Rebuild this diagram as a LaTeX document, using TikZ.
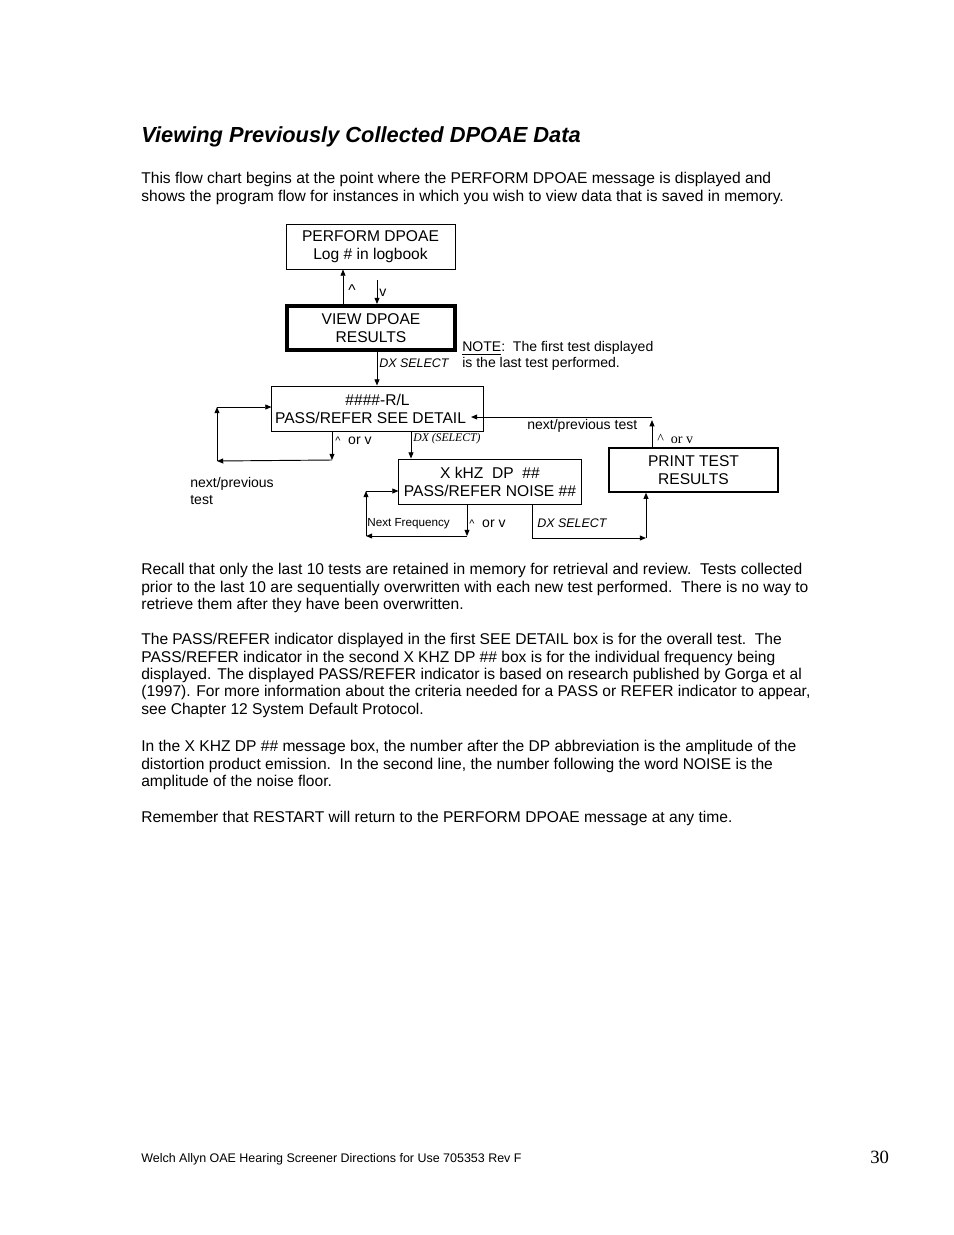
\documentclass[tikz,border=0pt]{standalone}
\usepackage{fontspec}
\setmainfont{Liberation Sans}
\newfontfamily\timesfont{Liberation Serif}
\usetikzlibrary{arrows.meta}

\begin{document}
\begin{tikzpicture}[
  x=0.6415pt, y=-0.6415pt,
  font=\fontsize{10}{11.5}\selectfont,
  box/.style={draw, line width=0.6pt, minimum height=28.9pt,
    align=center, inner sep=1pt},
  arrow/.style={-{Triangle[length=4pt,width=3.2pt]}, line width=0.6pt},
  lbl/.style={anchor=west, inner sep=0pt, font=\fontsize{9}{10.3}\selectfont},
  para/.style={anchor=north west, inner sep=0pt, align=left,
    font=\fontsize{10}{11.2}\selectfont},
]
  \useasboundingbox (0,0) rectangle (954,1235);

  % page text
  \node[anchor=base west, inner sep=0pt, font=\fontsize{14}{16}\selectfont\bfseries\itshape]
    (title) at (141,142) {Viewing Previously Collected DPOAE Data};
  \node[para] (intro) at (141,172) {This flow chart begins at the point where the PERFORM DPOAE message is displayed and\\
    shows the program flow for instances in which you wish to view data that is saved in memory.};

  % boxes
  \node[box, minimum width=108.4pt] (perform) at (370.5,246.5) {PERFORM DPOAE\\Log \# in logbook};
  \node[box, line width=2.6pt, minimum width=107.8pt, minimum height=28.2pt]
    (view) at (371,328) {VIEW DPOAE\\RESULTS};
  \node[box, minimum width=135.4pt] (seedetail) at (377.5,408.5) {\#\#\#\#-R/L\\PASS/REFER SEE DETAIL\hspace*{0.9em}};
  \node[box, minimum width=116.8pt] (noise) at (490,481.5) {X kHZ\ \ DP\ \ \#\#\\PASS/REFER NOISE \#\#};
  \node[box, line width=0.9pt, minimum width=108.4pt, minimum height=28.2pt]
    (print) at (693.5,470) {PRINT TEST\\RESULTS};

  % free ends of the connectors
  \coordinate (vtop) at (377,280);
  \coordinate (nb) at (332,460);
  \coordinate (nl) at (217,461);
  \coordinate (nt) at (217,407);
  \coordinate (fb) at (467,536);
  \coordinate (fl) at (366,536);
  \coordinate (ft) at (366,491);
  \coordinate (db) at (532,538);
  \coordinate (dr) at (646,538);
  \coordinate (pt) at (652,417);
  \coordinate (dtl) at (471,417);

  % connectors
  \draw[arrow] (view.north -| 343,0) -- (perform.south -| 343,0);
  \draw[arrow] (vtop) -- (view.north -| vtop);
  \draw[arrow] (view.south -| 377,0) -- (seedetail.north -| 377,0);
  \draw[arrow] (seedetail.south -| nb) -- (nb);
  \draw[arrow] (nb) -- (nl);
  \draw[arrow] (nl) -- (nt);
  \draw[arrow] (nt) -- (seedetail.west |- nt);
  \draw[arrow] (seedetail.south -| 411,0) -- (noise.north -| 411,0);
  \draw[arrow] (noise.south -| fb) -- (fb);
  \draw[arrow] (fb) -- (fl);
  \draw[arrow] (fl) -- (ft);
  \draw[arrow] (ft) -- (noise.west |- ft);
  \draw[arrow] (noise.south -| db) -- (db) -- (dr);
  \draw[arrow] (dr) -- (print.south -| dr);
  \draw[arrow] (print.north -| pt) -- ([yshift=-2pt]pt);
  \draw[arrow] (pt) -- (dtl);

  % labels
  \node[lbl, font=\fontsize{10}{11}\selectfont] (uplbl) at (348,290) {\textasciicircum};
  \node[lbl] (downlbl) at (379,293) {v};
  \node[lbl, font=\fontsize{8}{9}\selectfont\itshape] (dxsel) at (379,363) {DX SELECT};
  \node[lbl, align=left] (note) at (462,356) {\underline{NOTE}:\ \ The first test displayed\\is the last test performed.};
  \node[lbl, align=left] (nptest) at (190,491) {next/previous\\test};
  \node[lbl] (orv1) at (335,441) {{\fontsize{7}{8}\selectfont\textasciicircum}\ \ or v};
  \node[lbl, font=\fontsize{7.5}{8}\selectfont\timesfont\itshape] (dxsel2) at (413,439) {DX (SELECT)};
  \node[lbl] (nptest2) at (527,426) {next/previous test};
  \node[lbl, font=\fontsize{9}{10}\selectfont\timesfont] (orv2) at (657,439) {\textasciicircum\ \ or v};
  \node[lbl, font=\fontsize{7.5}{8}\selectfont] (nextfreq) at (367,524) {Next Frequency};
  \node[lbl] (orv3) at (469,524) {{\fontsize{7}{8}\selectfont\textasciicircum}\ \ or v};
  \node[lbl, font=\fontsize{8}{9}\selectfont\itshape] (dxsel3) at (537,523) {DX SELECT};

  % paragraphs below the chart
  \node[para] (recall) at (141,563) {Recall that only the last 10 tests are retained in memory for retrieval and review.\ \ Tests collected\\
    prior to the last 10 are sequentially overwritten with each new test performed.\ \ There is no way to\\
    retrieve them after they have been overwritten.};
  \node[para] (passrefer) at (141,633) {The PASS/REFER indicator displayed in the first SEE DETAIL box is for the overall test.\ \ The\\
    PASS/REFER indicator in the second X KHZ DP \#\# box is for the individual frequency being\\
    displayed. The displayed PASS/REFER indicator is based on research published by Gorga et al\\
    (1997). For more information about the criteria needed for a PASS or REFER indicator to appear,\\
    see Chapter 12 System Default Protocol.};
  \node[para] (khz) at (141,740) {In the X KHZ DP \#\# message box, the number after the DP abbreviation is the amplitude of the\\
    distortion product emission.\ \ In the second line, the number following the word NOISE is the\\
    amplitude of the noise floor.};
  \node[para] (restart) at (141,811) {Remember that RESTART will return to the PERFORM DPOAE message at any time.};

  % footer
  \node[anchor=base west, inner sep=0pt, font=\fontsize{8}{9}\selectfont]
    (footer) at (141,1162) {Welch Allyn OAE Hearing Screener Directions for Use 705353 Rev F};
  \node[anchor=base west, inner sep=0pt, font=\fontsize{12}{14}\selectfont\timesfont]
    (pagenum) at (870,1163) {30};
\end{tikzpicture}
\end{document}
